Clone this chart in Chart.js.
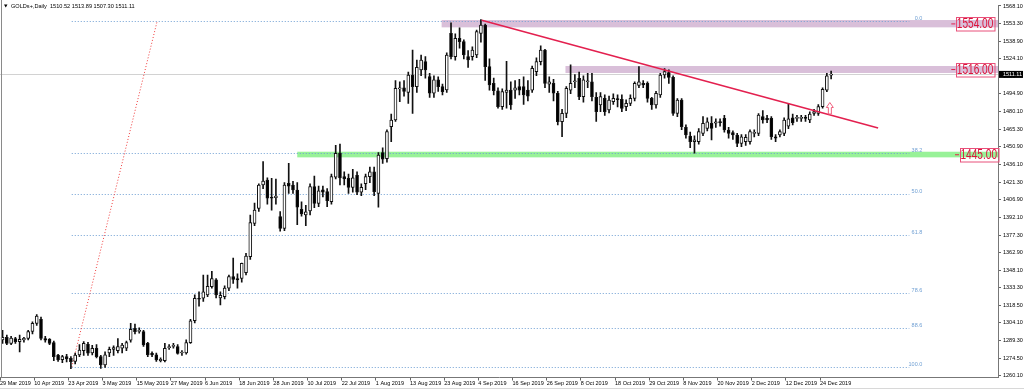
<!DOCTYPE html>
<html>
<head>
<meta charset="utf-8">
<script src="https://cdn.jsdelivr.net/npm/chart.js@4.4.1/dist/chart.umd.min.js"></script>
<style>
  html, body { margin: 0; padding: 0; background: #fff; }
  #wrap { position: relative; width: 1024px; height: 390px; }
</style>
</head>
<body>
<div id="wrap"><canvas id="goldChart" width="1024" height="390"></canvas></div>
<script>
/* ─── Data ─────────────────────────────────────── */
// one tick label every 8 daily bars, bar 0 = 29 Mar 2019
const dateTicks = ['29 Mar 2019','10 Apr 2019','23 Apr 2019','3 May 2019','15 May 2019','27 May 2019',
  '6 Jun 2019','18 Jun 2019','28 Jun 2019','10 Jul 2019','22 Jul 2019','1 Aug 2019','13 Aug 2019',
  '23 Aug 2019','4 Sep 2019','16 Sep 2019','26 Sep 2019','8 Oct 2019','18 Oct 2019','29 Oct 2019',
  '8 Nov 2019','20 Nov 2019','2 Dec 2019','12 Dec 2019','24 Dec 2019'];

const priceTicks = [1568.10,1553.30,1538.90,1524.10,1509.70,1494.90,1480.10,1465.30,1450.90,1436.10,
  1421.30,1406.90,1392.10,1377.30,1362.90,1348.10,1333.30,1318.50,1304.10,1289.30,1274.50,1260.10];

const opens = [1290,1292,1287,1291,1288.5,1290,1291.2,1297,1303.7,1307,1291,1290.4,1287.6,1277.3,1273.5,1276,1274.5,1272,1277.5,1281,
  1286.3,1279,1283,1276,1269,1279,1282,1281,1283,1283,1289.8,1299.5,1297,1296.8,1287,1278.7,1277.4,1272.6,1272.6,1283.5,
  1284.5,1284.3,1279,1279,1287.6,1305.9,1324.6,1324.6,1327.5,1334.3,1340,1325,1326,1333,1342.6,1341,1341.2,1346,1359.3,1387,
  1399.5,1419,1423.1,1408.4,1408.5,1392.6,1382.9,1420.4,1419,1414.8,1398.7,1394,1397.3,1417.6,1403.7,1415,1413.5,1405,1425.4,1445.6,
  1426,1424.5,1417,1427,1413,1420,1426,1430,1412,1446,1441,1467.6,1473.1,1499,1500,1496,1510.6,1500.9,1514.8,1521.7,
  1509.2,1495.4,1506.5,1500.9,1498.1,1545.3,1525.9,1541.2,1538.4,1525.9,1525.9,1527.3,1545.3,1552.3,1517.6,1503.7,1497.5,1484.2,1496,1498,
  1498,1501,1501,1498,1498,1513.4,1521.7,1531.4,1503,1503.7,1495.4,1471.7,1478.7,1498,1505,1507.8,1492.6,1505,1505,1492,
  1485.6,1491.2,1481.5,1488.4,1491,1490.4,1484.2,1487,1491.2,1502,1503.7,1503.7,1491.2,1485.6,1494,1510.6,1512.6,1508.7,1478.7,1489.8,
  1467,1459.8,1455.1,1455.1,1462,1466.2,1470.4,1470.4,1471.7,1474.5,1464.8,1462.6,1460.6,1453.7,1455.1,1455.1,1462,1462,1475.9,1474.5,
  1474.5,1459,1460.6,1462,1468,1475,1474.5,1474.5,1474.8,1473.1,1478.7,1478.7,1484.2,1498,1510.52];

const highs = [1298,1294,1293,1292,1294,1292,1298,1305,1311,1309,1293,1291,1289,1278,1277,1278,1276,1279,1286,1288.5,
  1288,1285.5,1286,1277,1280,1284,1285,1291,1287,1289,1303.7,1303.2,1300,1298,1288,1280,1279,1275,1287.1,1286,
  1287,1286,1281,1290,1307,1327.4,1330,1344,1344,1347,1341,1330,1335,1344,1358,1345,1354,1362,1394,1404,
  1420,1438.4,1425,1424.5,1424,1396.8,1421,1437,1422,1421,1405,1402,1420,1426.5,1418,1418,1416,1428,1452,1453,
  1430,1428,1432,1430,1420,1428,1434,1434,1446,1450,1465,1478.1,1506,1505,1506,1513,1531.4,1523.1,1527.3,1526,
  1512,1510,1509,1503,1529,1554,1545,1550,1540,1531,1534,1548,1556.8,1553,1524,1508,1500,1499,1522,1505,
  1506,1507,1509,1506,1518,1525,1535,1532,1509,1507,1497,1482,1501,1519,1511,1513,1510,1512,1512,1496,
  1496,1494,1493,1495,1494,1494,1490,1494,1505,1517.6,1506,1505,1492,1497,1512,1516,1515,1510,1491,1491,
  1469,1463,1460,1466,1476,1475,1475.9,1474,1474,1477,1467,1464,1462,1461,1461,1465,1465,1478.5,1481,1477,
  1476,1461,1465,1475,1487,1478,1477,1477,1477,1480,1482,1486,1500,1512,1513.89];

const lows = [1287,1286,1286,1287,1280,1288,1290,1295,1302,1290,1288,1286,1272.6,1272,1271,1271.5,1266,1270,1276,1277,
  1277,1277.5,1275,1266.2,1267,1276,1277,1279,1279,1281,1288,1295,1295.5,1284.5,1276,1276,1272,1271.5,1271.5,1282,
  1283,1278,1277,1278,1287,1304,1318,1322,1326,1333,1325,1319,1324,1331,1337,1333,1338,1344,1357,1385,
  1397,1416,1403,1398.1,1403,1380.6,1381,1412,1412,1386,1393,1385,1394,1400,1401,1409,1401,1403,1424,1419,
  1419,1412,1413,1411,1410,1415,1421,1410,1400.4,1437,1438,1455.1,1472,1488.4,1493,1487,1478.7,1496,1510,1508,
  1492,1492,1497,1494,1496,1524,1523,1533,1524,1517,1523,1525,1538,1506,1498,1494,1483,1482,1483,1482,
  1491,1494,1486,1489,1496,1510,1519,1500,1496,1489,1469,1459.2,1475,1495,1500,1490,1488,1500,1489,1472,
  1480,1477,1479,1486,1484,1480,1481,1485,1489,1500,1500,1488,1482,1483,1492,1508,1503.7,1477,1476,1465,
  1458,1450,1445.4,1453,1460,1464,1456.5,1467,1468,1463,1458,1457,1451,1451,1452,1453,1459,1460,1470.4,1471,
  1457,1455,1459,1460,1466,1469,1472,1472,1472,1471,1477,1477,1483,1496.7,1507.30];

const closes = [1292,1287,1291.5,1288.5,1290.4,1291.2,1296.8,1303.7,1309.8,1291.2,1289.8,1287,1276,1273.2,1276,1274,1271.8,1277.3,1281.5,1287,
  1278.8,1283,1276,1269,1277.4,1282.1,1283.5,1284.3,1285.7,1287.6,1298.7,1296.8,1298,1285.7,1277.4,1277.4,1273.2,1273.8,1282.9,1284,
  1285,1278.7,1279.5,1287.6,1305.9,1324.6,1323.8,1330,1334.5,1341,1327.3,1327,1333,1342.6,1340.4,1339.8,1353.7,1359.8,1387.6,1398.1,
  1419,1422.3,1407.9,1407.9,1409.7,1382.9,1419,1418.1,1414.8,1400.4,1394.8,1396.7,1417.6,1403.7,1414.2,1413,1406,1425.9,1445.4,1424.8,
  1424,1417,1425,1413,1417,1426,1430,1413.4,1444,1440.5,1463.4,1473.1,1499.5,1500,1497,1510.6,1500.9,1517,1523.1,1514.8,
  1495.4,1506.5,1500.9,1496.7,1527.3,1525.9,1541.2,1538.4,1527.3,1523.1,1531.4,1546.7,1552.3,1517.6,1502.3,1497.5,1484.2,1496.7,1498,1485.6,
  1500,1498,1494,1493,1516.2,1521.7,1531.4,1503.7,1505,1495.4,1471.7,1478.7,1499.5,1503.7,1505.5,1492.6,1506.5,1505.5,1492.6,1480,
  1492.6,1480.1,1489.8,1491.2,1490,1482.8,1487,1491.2,1503.7,1505,1502.3,1491.2,1485.6,1495.4,1510.6,1513.4,1508.7,1478.7,1489.8,1467.6,
  1460.6,1455.1,1456.5,1463.4,1470.4,1471.7,1466.2,1471.7,1471,1464.8,1462,1460.6,1453.7,1459.2,1458.7,1463.4,1462.6,1477.3,1473.1,1473.1,
  1459.2,1458,1463.4,1473.1,1474,1471,1474.8,1475,1474.5,1478.1,1480.1,1484.2,1498.7,1510,1511.11];

// drawn objects on the chart (bar index / price)
const zoneLow   = [1550.3, 1512.3, 1442.0];
const zoneHigh  = [1556.4, 1518.1, 1446.7];
const zoneStart = [102.8, 131.8, 69.0];
const levelTags = [1554.00, 1516.00, 1445.00];
const fibLevels = [0.0, 38.2, 50.0, 61.8, 78.6, 88.6, 100.0];
const fibTop = 1555.5, fibBottom = 1267.3;
const fibAnchors = [16.2, 36.2];        // bar index of 100 and 0 points
const fibEnd = 212.3;
const trendFrom = [112.2, 1556.2];
const trendTo   = [205.0, 1466.5];
const arrowAt   = [193.7, 1487.7, 1478.1];   // bar, tip price, tail price
const lastPrice = closes[closes.length - 1];

/* ─── Candle datasets ──────────────────────────── */
const wicks  = highs.map((h, i) => ({ x: i, y: [lows[i], h] }));
const bodies = opens.map((o, i) => ({ x: i, y: [o, closes[i]] }));
const bodyFill = opens.map((o, i) => closes[i] >= o ? '#ffffff' : '#000000');

/* ─── Overlay drawings ─────────────────────────── */
const style = {
  zoneColors: ['#d9bfd9', '#d9bfd9', '#98f298'],
  fibColor:   '#6f9fd3',
  red:        '#e3204f',
  tagRight:   [3.7, 3.7, 0],
  font:       "'Liberation Sans', Arial, sans-serif"
};

const overlay = {
  id: 'overlay',
  beforeDatasetsDraw(chart) {
    const { ctx, chartArea: a, scales: { x, y } } = chart;
    ctx.save();
    // zones
    zoneLow.forEach((lo, k) => {
      const x0 = x.getPixelForValue(zoneStart[k]);
      const y0 = y.getPixelForValue(zoneHigh[k]);
      const y1 = y.getPixelForValue(lo);
      ctx.fillStyle = style.zoneColors[k];
      ctx.fillRect(x0, y0, a.right - x0, y1 - y0);
    });
    // current price line
    const py = Math.round(y.getPixelForValue(lastPrice)) + 0.5;
    ctx.strokeStyle = '#d2d2d2';
    ctx.lineWidth = 1;
    ctx.beginPath(); ctx.moveTo(a.left, py); ctx.lineTo(a.right, py); ctx.stroke();
    // fibonacci levels
    const fx0 = x.getPixelForValue(fibAnchors[0]);
    const fx1 = x.getPixelForValue(fibEnd);
    ctx.setLineDash([1, 2]);
    ctx.strokeStyle = style.fibColor;
    ctx.fillStyle = style.fibColor;
    ctx.font = '5.5px ' + style.font;
    ctx.textAlign = 'right';
    ctx.textBaseline = 'bottom';
    fibLevels.forEach(lv => {
      const fy = Math.round(y.getPixelForValue(fibTop - (fibTop - fibBottom) * lv / 100)) + 0.5;
      ctx.beginPath(); ctx.moveTo(fx0, fy); ctx.lineTo(fx1, fy); ctx.stroke();
      ctx.fillText(lv.toFixed(1), fx1 + 13, fy - 0.5);
    });
    // fibonacci diagonal
    ctx.strokeStyle = '#f03a3a';
    ctx.beginPath();
    ctx.moveTo(fx0, y.getPixelForValue(fibBottom));
    ctx.lineTo(x.getPixelForValue(fibAnchors[1]), y.getPixelForValue(fibTop));
    ctx.stroke();
    ctx.restore();
  },
  afterDatasetsDraw(chart) {
    const { ctx, chartArea: a, scales: { x, y } } = chart;
    ctx.save();
    // trend line
    ctx.strokeStyle = style.red;
    ctx.lineWidth = 1.6;
    ctx.beginPath();
    ctx.moveTo(x.getPixelForValue(trendFrom[0]), y.getPixelForValue(trendFrom[1]));
    ctx.lineTo(x.getPixelForValue(trendTo[0]), y.getPixelForValue(trendTo[1]));
    ctx.stroke();
    // hollow up arrow
    const ax = x.getPixelForValue(arrowAt[0]);
    const at = y.getPixelForValue(arrowAt[1]);
    const ab = y.getPixelForValue(arrowAt[2]);
    ctx.strokeStyle = '#f0607e';
    ctx.lineWidth = 1;
    ctx.beginPath();
    ctx.moveTo(ax, at);
    ctx.lineTo(ax + 3.5, at + 5);
    ctx.lineTo(ax + 1.5, at + 5);
    ctx.lineTo(ax + 1.5, ab);
    ctx.lineTo(ax - 1.5, ab);
    ctx.lineTo(ax - 1.5, at + 5);
    ctx.lineTo(ax - 3.5, at + 5);
    ctx.closePath();
    ctx.stroke();
    // price tags of the levels
    levelTags.forEach((lv, k) => {
      const cy = y.getPixelForValue(lv) + 1;
      const r = a.right - style.tagRight[k];
      const w = 38.5, h = 13.5;
      ctx.strokeStyle = '#e8507a';
      ctx.lineWidth = 1;
      ctx.strokeRect(Math.round(r - w) + 0.5, Math.round(cy - h / 2) + 0.5, w, h);
      ctx.strokeStyle = style.red;
      ctx.beginPath(); ctx.moveTo(r - w - 4.5, cy); ctx.lineTo(r - w - 0.5, cy); ctx.stroke();
      ctx.fillStyle = '#dc143c';
      ctx.font = '14px ' + style.font;
      ctx.textAlign = 'left';
      ctx.textBaseline = 'middle';
      const txt = lv.toFixed(2);
      const tw = ctx.measureText(txt).width;
      ctx.save();
      ctx.translate(r - w + 1, cy + 0.5);
      ctx.scale((w - 2) / tw, 1);
      ctx.fillText(txt, 0, 0);
      ctx.restore();
    });
    // header
    ctx.fillStyle = '#000';
    ctx.beginPath(); ctx.moveTo(4, 4.5); ctx.lineTo(7.5, 4.5); ctx.lineTo(5.75, 7.5); ctx.closePath(); ctx.fill();
    ctx.font = '5.6px ' + style.font;
    ctx.textAlign = 'left';
    ctx.textBaseline = 'middle';
    ctx.fillText('GOLDs+,Daily  ' + [opens, highs, lows, closes].map(s => s[s.length - 1].toFixed(2)).join(' '), 11, 6.5);
    ctx.restore();
  },
  afterDraw(chart) {
    const { ctx, chartArea: a, scales: { y } } = chart;
    ctx.save();
    // frame
    ctx.strokeStyle = '#8a8a8a';
    ctx.lineWidth = 1;
    ctx.beginPath(); ctx.moveTo(1.5, 0); ctx.lineTo(1.5, a.bottom); ctx.stroke();
    ctx.strokeStyle = '#d8d8d8';
    ctx.beginPath(); ctx.moveTo(0, 388.5); ctx.lineTo(1024, 388.5); ctx.stroke();
    // last price box on the axis
    const py = y.getPixelForValue(lastPrice);
    ctx.fillStyle = '#000';
    ctx.fillRect(a.right + 1, py - 3.5, 24, 7);
    ctx.fillStyle = '#fff';
    ctx.font = '5.5px ' + style.font;
    ctx.textAlign = 'left';
    ctx.textBaseline = 'middle';
    ctx.fillText(lastPrice.toFixed(2), a.right + 5, py + 0.3);
    ctx.restore();
  }
};

/* ─── Chart ────────────────────────────────────── */
Chart.defaults.font.family = "'Liberation Sans', Arial, sans-serif";
Chart.defaults.color = '#000';

new Chart(document.getElementById('goldChart'), {
  type: 'bar',
  data: {
    datasets: [
      {
        label: 'wick',
        data: wicks,
        backgroundColor: '#111',
        barThickness: 1,
        grouped: false,
        order: 2
      },
      {
        label: 'body',
        data: bodies,
        backgroundColor: bodyFill,
        borderColor: '#111',
        borderWidth: 1,
        borderSkipped: false,
        barThickness: 3,
        minBarLength: 1,
        grouped: false,
        order: 1
      }
    ]
  },
  options: {
    responsive: false,
    animation: false,
    events: [],
    layout: { padding: 0 },
    plugins: { legend: { display: false }, tooltip: { enabled: false } },
    scales: {
      x: {
        type: 'linear',
        min: -0.6,
        max: 233.07,
        offset: false,
        afterBuildTicks: s => { s.ticks = dateTicks.map((_, k) => ({ value: k * 8 - 0.6 })); },
        afterFit: s => { s.height = 12.5; },
        grid: { offset: false, drawOnChartArea: false, drawTicks: true, tickLength: 3, color: '#666' },
        border: { display: true, color: '#777' },
        ticks: {
          align: 'start', padding: 0, autoSkip: false, maxRotation: 0,
          font: { size: 5.5 }, color: '#000',
          callback: (v, k) => dateTicks[k]
        }
      },
      y: {
        position: 'right',
        min: 1258.6,
        max: 1568.68,
        afterBuildTicks: s => { s.ticks = priceTicks.map(v => ({ value: v })); },
        afterFit: s => { s.width = 26; },
        grid: { drawOnChartArea: false, drawTicks: true, tickLength: 3, color: '#666' },
        border: { display: true, color: '#777' },
        ticks: { padding: 2, font: { size: 5.5 }, color: '#000', callback: v => v.toFixed(2) }
      }
    }
  },
  plugins: [overlay]
});
</script>
</body>
</html>
